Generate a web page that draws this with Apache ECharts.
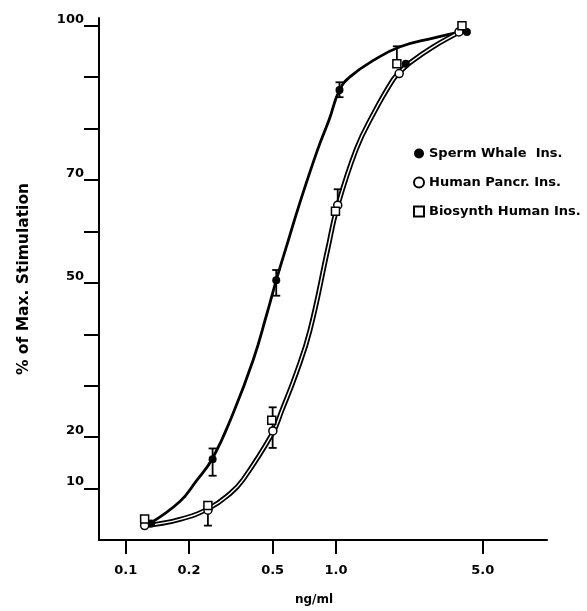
<!DOCTYPE html>
<html>
<head>
<meta charset="utf-8">
<script src="https://cdn.jsdelivr.net/npm/echarts@6/dist/echarts.min.js"></script>
<style>
html,body{margin:0;padding:0;background:#fff;}
#chart{width:587px;height:611px;}
</style>
</head>
<body>
<div id="chart"></div>
<script>
// ---- data ----
const whaleX = [0.132, 0.259, 0.52, 1.04, 2.15, 4.2];
const spermWhale = [3.2, 15.7, 50.5, 87.5, 92.6, 98.8];
const humanX = [0.123, 0.246, 0.501, 1.02, 2.0, 3.85];
const humanPancr = [2.8, 5.8, 21.2, 65.1, 90.7, 98.8];
const biosynthX = [0.123, 0.246, 0.495, 0.995, 1.95, 3.98];
const biosynthHuman = [4.1, 6.7, 23.3, 63.9, 92.6, 100.0];

// fitted curves
const whaleCurveX = [0.13, 0.181, 0.215, 0.259, 0.324, 0.404, 0.468, 0.52, 0.578, 0.674, 0.82, 0.93, 1.04, 1.17, 1.53, 2.02, 2.9, 4.1];
const whaleCurveY = [3.2, 7.5, 11.3, 15.9, 24.6, 35.0, 43.8, 50.5, 56.7, 65.6, 76.0, 81.8, 87.5, 90.1, 93.4, 95.9, 97.6, 99.0];
const humanCurveX = [0.125, 0.181, 0.25, 0.313, 0.361, 0.5, 0.551, 0.65, 0.752, 0.916, 1.01, 1.25, 1.5, 1.87, 2.02, 2.25, 2.9, 3.98];
const humanCurveY = [2.8, 4.0, 6.2, 9.0, 11.7, 20.8, 25.0, 32.6, 40.7, 56.7, 64.4, 76.0, 82.7, 89.5, 91.0, 92.8, 95.9, 99.0];

// error bars: [x, low, high]
const errWhale = [[0.259, 12.5, 17.8], [0.52, 47.5, 52.5], [1.04, 86.1, 89.0]];
const errHuman = [[0.246, 2.8, 6.9], [0.5, 17.9, 25.8], [1.02, 65.1, 68.2], [1.95, 92.6, 96.0]];

const xTicks = [0.1, 0.2, 0.5, 1.0, 5.0];
const yTicks = [10, 20, 30, 40, 50, 60, 70, 80, 90, 100];
const yLabels = [10, 20, 50, 70, 100];

const seriesNames = ['Sperm Whale  Ins.', 'Human Pancr. Ins.', 'Biosynth Human Ins.'];

// ---- chart ----
const FONT = '"DejaVu Sans", "Liberation Sans", Arial, sans-serif';
const zip = (a, b) => a.map((v, i) => [v, b[i]]);

const chart = echarts.init(document.getElementById('chart'), null, {renderer: 'canvas'});

function errRender(params, api) {
  const x = api.value(0), lo = api.value(1), hi = api.value(2);
  const a = api.coord([x, lo]), b = api.coord([x, hi]);
  const w = 4;
  const st = {stroke: '#000', lineWidth: 1.8};
  return {
    type: 'group',
    children: [
      {type: 'line', shape: {x1: a[0], y1: a[1], x2: b[0], y2: b[1]}, style: st},
      {type: 'line', shape: {x1: a[0] - w, y1: a[1], x2: a[0] + w, y2: a[1]}, style: st},
      {type: 'line', shape: {x1: b[0] - w, y1: b[1], x2: b[0] + w, y2: b[1]}, style: st}
    ]
  };
}

const curveCommon = {type: 'line', smooth: 0.45, symbol: 'none', silent: true};

const option = {
  backgroundColor: '#fff',
  animation: false,
  grid: {left: 99, right: 40, top: 18, bottom: 67.2, containLabel: false},
  legend: {
    orient: 'vertical',
    left: 413,
    top: 147,
    itemWidth: 10,
    itemHeight: 10,
    itemGap: 16,
    padding: 0,
    data: seriesNames,
    textStyle: {fontFamily: FONT, fontWeight: 'bold', fontSize: 13, color: '#000'}
  },
  xAxis: {
    type: 'log',
    logBase: 10,
    min: 0.0746,
    max: 10.1,
    name: 'ng/ml',
    nameLocation: 'middle',
    nameGap: 54,
    nameTextStyle: {fontFamily: FONT, fontWeight: 'bold', fontSize: 12, color: '#000', padding: [0, 0, 0, -18]},
    axisLine: {show: true, onZero: false, lineStyle: {color: '#000', width: 2}},
    axisTick: {show: true, length: 14, customValues: xTicks, lineStyle: {color: '#000', width: 2}},
    axisLabel: {customValues: xTicks, margin: 24, formatter: v => Number(v).toFixed(1),
      fontFamily: FONT, fontWeight: 'bold', fontSize: 13, color: '#000'},
    splitLine: {show: false},
    minorTick: {show: false}
  },
  yAxis: {
    type: 'value',
    min: 0,
    max: 101.5,
    name: '% of Max. Stimulation',
    nameLocation: 'middle',
    nameGap: 67,
    nameRotate: 90,
    nameTextStyle: {fontFamily: FONT, fontWeight: 'bold', fontSize: 15.5, color: '#000'},
    axisLine: {show: true, lineStyle: {color: '#000', width: 2}},
    axisTick: {show: true, length: 15, customValues: yTicks, lineStyle: {color: '#000', width: 2}},
    axisLabel: {customValues: yLabels, margin: 15, verticalAlign: 'bottom',
      fontFamily: FONT, fontWeight: 'bold', fontSize: 13, color: '#000'},
    splitLine: {show: false}
  },
  series: [
    Object.assign({}, curveCommon, {
      name: 'whaleCurve', data: zip(whaleCurveX, whaleCurveY), lineStyle: {color: '#000', width: 2.8}, z: 2
    }),
    Object.assign({}, curveCommon, {
      name: 'humanCurveOuter', data: zip(humanCurveX, humanCurveY), lineStyle: {color: '#000', width: 5}, z: 2
    }),
    Object.assign({}, curveCommon, {
      name: 'humanCurveInner', data: zip(humanCurveX, humanCurveY), lineStyle: {color: '#fff', width: 1.4}, z: 3
    }),
    {type: 'custom', name: 'errWhale', data: errWhale, renderItem: errRender, z: 4, silent: true},
    {type: 'custom', name: 'errHuman', data: errHuman, renderItem: errRender, z: 4, silent: true},
    {
      type: 'scatter', name: seriesNames[0], data: zip(whaleX, spermWhale), symbol: 'circle', symbolSize: 8,
      itemStyle: {color: '#000', opacity: 1}, z: 6
    },
    {
      type: 'scatter', name: seriesNames[1], data: zip(humanX, humanPancr), symbol: 'circle', symbolSize: 8,
      itemStyle: {color: '#fff', borderColor: '#000', borderWidth: 1.5, opacity: 1}, z: 7
    },
    {
      type: 'scatter', name: seriesNames[2], data: zip(biosynthX, biosynthHuman), symbol: 'rect', symbolSize: 8,
      itemStyle: {color: '#fff', borderColor: '#000', borderWidth: 1.5, opacity: 1}, z: 7
    }
  ]
};
chart.setOption(option);
</script>
</body>
</html>
